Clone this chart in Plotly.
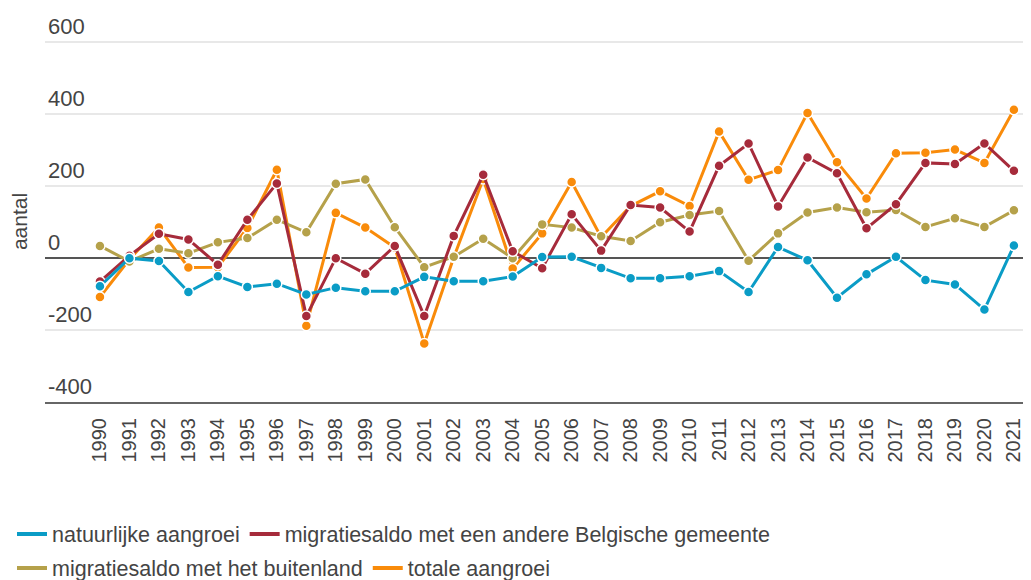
import plotly.graph_objects as go

# Bevolkingsdynamiek per jaar (aantal)
jaren = list(range(1990, 2022))

natuurlijke_aangroei = [
    -78, 0, -8, -94, -50, -80, -71, -101, -82, -92, -92, -52, -64, -64, -51, 3,
    4, -27, -56, -56, -50, -36, -94, 31, -6, -110, -45, 4, -61, -73, -143, 35,
]
migratie_gemeente = [
    -65, 7, 68, 52, -18, 107, 208, -161, 0, -43, 34, -161, 62, 232, 19, -28,
    122, 21, 148, 141, 74, 257, 319, 144, 280, 236, 83, 150, 265, 262, 319, 243,
]
migratie_buitenland = [
    34, -9, 26, 14, 44, 56, 107, 72, 207, 219, 86, -25, 4, 54, 0, 94,
    85, 61, 48, 100, 120, 131, -7, 69, 127, 141, 128, 134, 87, 111, 87, 133,
]
totale_aangroei = [
    -108, -3, 85, -26, -25, 84, 246, -188, 126, 85, 30, -237, 2, 220, -29, 69,
    212, 58, 145, 186, 145, 352, 218, 245, 404, 267, 166, 292, 293, 302, 265, 413,
]

y_ticks = [-400, -200, 0, 200, 400, 600]
y_ticklabels = ["-400", "-200", "0", "200", "400", "600"]

reeksen = [
    ("natuurlijke aangroei", natuurlijke_aangroei, "#0a9cc6", "legend"),
    ("migratiesaldo met een andere Belgische gemeente", migratie_gemeente, "#a62b3b", "legend"),
    ("migratiesaldo met het buitenland", migratie_buitenland, "#b5a14a", "legend2"),
    ("totale aangroei", totale_aangroei, "#f98b0a", "legend2"),
]

FONT = "Liberation Sans, Arial, sans-serif"
TEXT_COLOR = "#444444"

# de pagina heeft 8px body-marge: figuur iets kleiner maken
W, H = 1023, 572

fig = go.Figure()

# Tekenvolgorde: oranje onderaan, blauw bovenaan
for naam, waarden, kleur, _ in reversed(reeksen):
    fig.add_trace(
        go.Scatter(
            x=jaren,
            y=waarden,
            mode="lines+markers",
            name=naam,
            line=dict(color=kleur, width=3),
            marker=dict(size=10, color=kleur, line=dict(color="white", width=1.5)),
            showlegend=False,
            hovertemplate="%{x}: %{y}<extra>" + naam + "</extra>",
        )
    )

# Legende zonder markers (alleen een lijnstukje)
for naam, _, kleur, legende in reeksen:
    fig.add_trace(
        go.Scatter(
            x=[None],
            y=[None],
            mode="lines",
            name=naam,
            line=dict(color=kleur, width=4),
            legend=legende,
        )
    )

legend_style = dict(
    orientation="h",
    xref="container",
    yref="container",
    x=4 / W,
    xanchor="left",
    yanchor="middle",
    font=dict(family=FONT, size=21.5, color=TEXT_COLOR),
    itemwidth=30,
    bgcolor="rgba(0,0,0,0)",
)

fig.update_layout(
    width=W,
    height=H,
    margin=dict(l=37, r=0, t=32.5, b=178),
    plot_bgcolor="white",
    paper_bgcolor="white",
    font=dict(family=FONT, size=20, color=TEXT_COLOR),
    xaxis=dict(
        range=[1988.136, 2021.58],
        tickmode="array",
        tickvals=jaren,
        ticktext=[str(j) for j in jaren],
        tickangle=-90,
        showgrid=False,
        zeroline=False,
        showline=True,
        linecolor="#666666",
        linewidth=2,
        ticks="outside",
        ticklen=6,
        tickcolor="rgba(0,0,0,0)",
        tickfont=dict(family=FONT, size=20, color=TEXT_COLOR),
    ),
    yaxis=dict(
        range=[-400, 604],
        tickmode="array",
        tickvals=y_ticks,
        ticktext=y_ticklabels,
        ticklabelposition="inside",
        ticklabelshift=-16,
        ticklabeloverflow="allow",
        showgrid=True,
        gridcolor="#e8e8e8",
        gridwidth=2,
        zeroline=True,
        zerolinecolor="#555555",
        zerolinewidth=1.5,
        tickfont=dict(family=FONT, size=22, color=TEXT_COLOR),
        title=dict(text="aantal", font=dict(family=FONT, size=21, color=TEXT_COLOR)),
    ),
    legend=dict(legend_style, y=46 / H),
    legend2=dict(legend_style, y=12 / H),
    hovermode="closest",
)

fig.write_html("out.html")
